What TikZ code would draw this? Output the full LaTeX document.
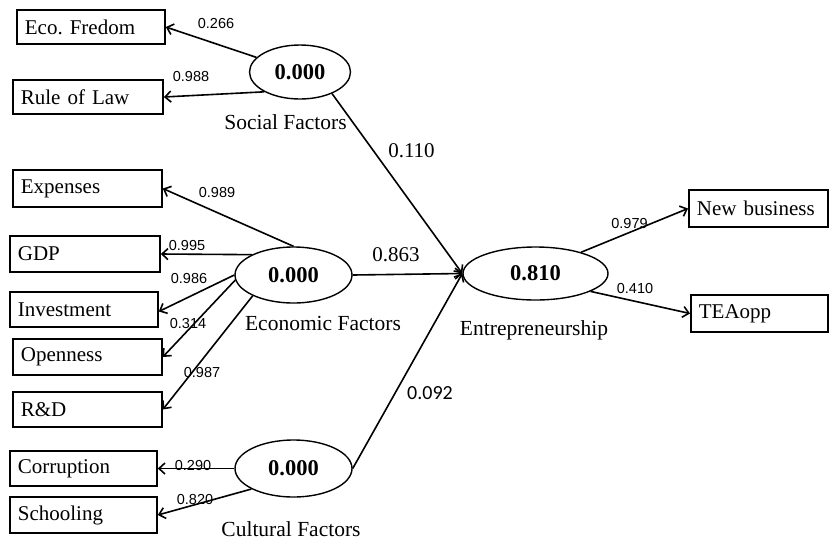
\documentclass[tikz,border=0pt]{standalone}
\usepackage{fontspec}
\setmainfont{Liberation Serif}
\newfontfamily\lblfont{Liberation Sans}
\newfontfamily\calfont{Carlito}
\usetikzlibrary{arrows.meta,shapes.geometric}
\frenchspacing
\begin{document}
\begin{tikzpicture}[x=1pt,y=-1pt,
 box/.style={draw, line width=1.8pt, anchor=west, inner xsep=8pt, inner ysep=0pt, align=left, font=\frenchspacing\fontsize{21}{24}\selectfont},
 lat/.style={draw, ellipse, line width=1.4pt, inner sep=0pt, font=\bfseries\fontsize{22.5}{24}\selectfont},
 arr/.style={line width=1.6pt, -{Straight Barb[length=6pt,width=11pt,line width=1.6pt]}},
 ld/.style={font=\lblfont\fontsize{14.5}{16}\selectfont, inner sep=0pt},
 lp/.style={font=\fontsize{21}{24}\selectfont, inner sep=0pt},
 nm/.style={font=\fontsize{21.5}{24}\selectfont, inner sep=0pt}]
\useasboundingbox (0,0) rectangle (829,542);
% indicator boxes
\node[box, text width=132pt, minimum height=34pt] (eco) at (16,27) {Eco. Fredom};
\node[box, text width=134pt, minimum height=34pt] (rol) at (12,97) {Rule of Law};
\node[box, text width=133pt, minimum height=37pt] (exp) at (12,188.5) {Expenses};
\node[box, text width=134pt, minimum height=36pt] (gdp) at (9,254) {GDP};
\node[box, text width=132pt, minimum height=35pt] (inv) at (9,309.5) {Investment};
\node[box, text width=133pt, minimum height=36pt] (opn) at (12,357) {Openness};
\node[box, text width=133pt, minimum height=35pt] (rd) at (12,409.5) {R\&D};
\node[box, text width=131pt, minimum height=35pt] (cor) at (9,468.5) {Corruption};
\node[box, text width=131pt, minimum height=36pt] (sch) at (9,515) {Schooling};
\node[box, text width=123pt, minimum height=37pt] (nb) at (688,208.5) {New business};
\node[box, text width=121pt, minimum height=37pt] (tea) at (690,313.5) {TEAopp};
% latent variables
\node[lat, minimum width=101pt, minimum height=54pt] (soc) at (300,72) {0.000};
\node[lat, minimum width=117pt, minimum height=56pt] (ecof) at (293.5,275) {0.000};
\node[lat, minimum width=117pt, minimum height=57pt] (cul) at (293.5,468.5) {0.000};
\node[lat, minimum width=145pt, minimum height=53pt] (ent) at (535.5,273.5) {0.810};
% names
\node[nm] (socl) at (285.5,122) {Social Factors};
\node[nm] (ecol) at (323,323) {Economic Factors};
\node[nm] (cull) at (291,529) {Cultural Factors};
\node[nm] (entl) at (534,330) {Entrepreneurship};
% arrows
\draw[arr] (soc) -- (eco.east);
\draw[arr] (soc.209) -- (rol.east);
\draw[arr] (soc.326) -- (ent.west);
\draw[arr] (ecof.north) -- (exp.east);
\draw[arr] (ecof.154) -- (gdp.east);
\draw[arr] (ecof.west) -- ([yshift=-2pt]inv.east);
\draw[arr] (ecof.185) -- (opn.east);
\draw[arr] (ecof.207) -- (rd.east);
\draw[arr] (ecof.east) -- (ent.west);
\draw[arr] (cul.west) -- (cor.east);
\draw[arr] (cul.206) -- (sch.east);
\draw[arr] (cul.east) -- (ent.west);
\draw[arr] (ent.25) -- (nb.west);
\draw[arr] (ent.342) -- (tea.west);
% loadings
\node[ld] (l1) at (216,24) {0.266};
\node[ld] (l2) at (191,77) {0.988};
\node[ld] (l3) at (217,193) {0.989};
\node[ld] (l4) at (187,245) {0.995};
\node[ld] (l5) at (189,278) {0.986};
\node[ld] (l6) at (188,323) {0.314};
\node[ld] (l7) at (202,372) {0.987};
\node[ld] (l8) at (193,465) {0.290};
\node[ld] (l9) at (195,499) {0.820};
\node[ld] (l10) at (629.5,223) {0.979};
\node[ld] (l11) at (635,288) {0.410};
% paths
\node[lp] (p1) at (411.5,151) {0.110};
\node[lp] (p2) at (396,255) {0.863};
\node[lp, font=\calfont\fontsize{20}{24}\selectfont] (p3) at (430,393) {0.092};
\end{tikzpicture}
\end{document}
